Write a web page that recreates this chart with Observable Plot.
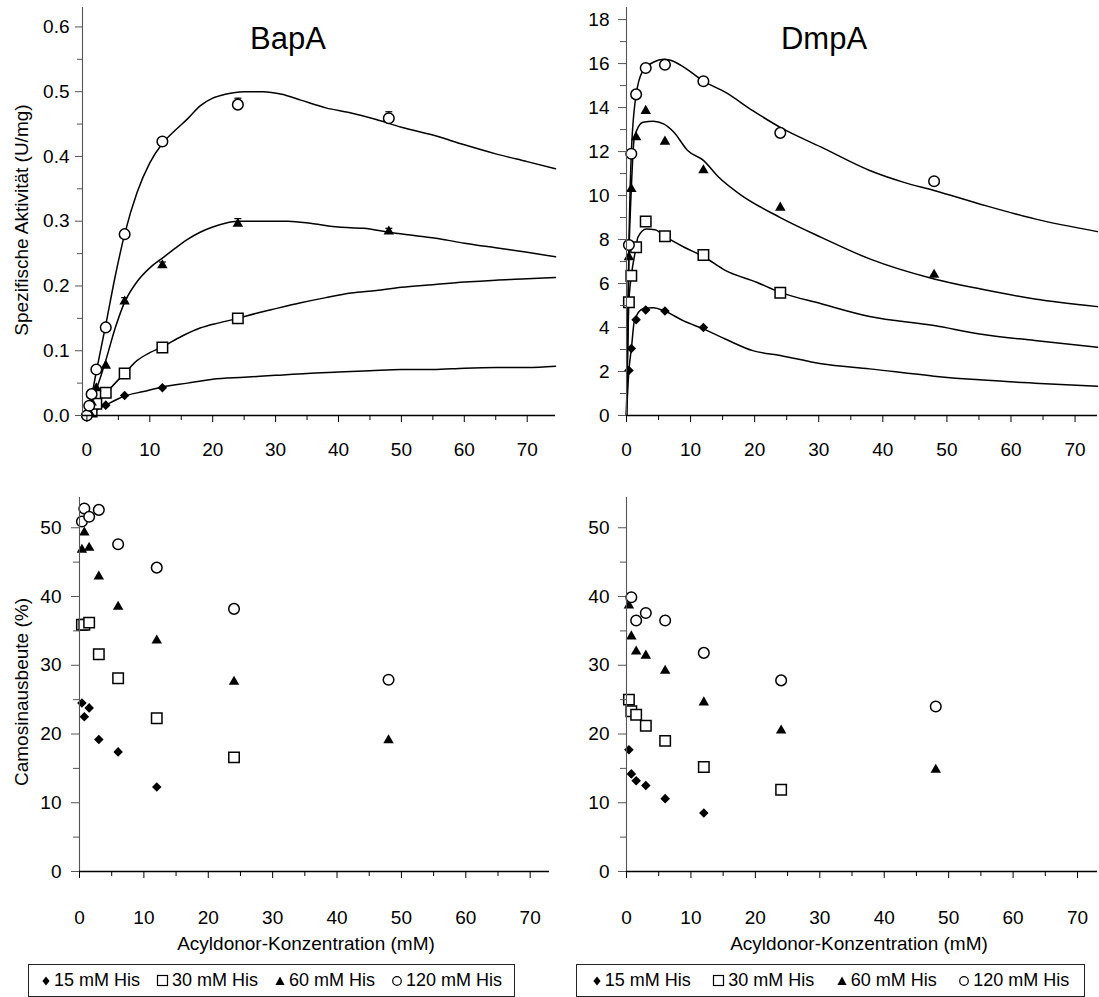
<!DOCTYPE html>
<html><head><meta charset="utf-8">
<script src="https://cdn.jsdelivr.net/npm/d3@7"></script>
<script src="https://cdn.jsdelivr.net/npm/@observablehq/plot@0.6"></script>
<style>
body{margin:0;background:#fff;font-family:"Liberation Sans",Arial,sans-serif;color:#000;}
#root{position:relative;width:1099px;height:997px;overflow:hidden;background:#fff;}
.panel{position:absolute;}
.lbl{position:absolute;white-space:nowrap;line-height:1;}
.legend{position:absolute;box-sizing:border-box;border:1px solid #222;display:flex;align-items:center;justify-content:space-around;font-size:18px;padding:0 4px;}
.legend span.it{display:flex;align-items:center;white-space:nowrap;}
.legend svg{margin-right:3px;}
</style></head><body><div id="root"></div>
<script>
// ---------- categories ----------
const hisLevels = ["15 mM His", "30 mM His", "60 mM His", "120 mM His"];

// ---------- tick labels ----------
const xMajor = [0, 10, 20, 30, 40, 50, 60, 70];
const xMinor = [5, 15, 25, 35, 45, 55, 65];
const yMajorBapAct = [0, 0.1, 0.2, 0.3, 0.4, 0.5, 0.6];
const yMinorBapAct = [0.05, 0.15, 0.25, 0.35, 0.45, 0.55];
const yMajorDmpAct = [0, 2, 4, 6, 8, 10, 12, 14, 16, 18];
const yMinorDmpAct = [1, 3, 5, 7, 9, 11, 13, 15, 17];
const yMajorYield = [0, 10, 20, 30, 40, 50];
const yMinorYield = [5, 15, 25, 35, 45];

// ---------- BapA: specific activity (U/mg), measured ----------
const bapAct15x = [3, 6, 12];
const bapAct15y = [0.016, 0.031, 0.043];
const bapAct30x = [0.75, 1.5, 3, 6, 12, 24];
const bapAct30y = [0.006, 0.018, 0.035, 0.065, 0.105, 0.15];
const bapAct60x = [0.375, 0.75, 1.5, 3, 6, 12, 24, 48];
const bapAct60y = [0.005, 0.02, 0.042, 0.077, 0.176, 0.232, 0.296, 0.284];
const bapAct120x = [0, 0.375, 0.75, 1.5, 3, 6, 12, 24, 48];
const bapAct120y = [0, 0.015, 0.033, 0.071, 0.136, 0.28, 0.423, 0.48, 0.459];
// error bars (upper end)
const bapErrX = [6, 12, 24, 48, 12, 24, 48];
const bapErrY = [0.176, 0.232, 0.296, 0.284, 0.423, 0.48, 0.459];
const bapErrHi = [0.182, 0.237, 0.304, 0.289, 0.428, 0.49, 0.469];
const bapErrHis = ["60 mM His", "60 mM His", "60 mM His", "60 mM His", "120 mM His", "120 mM His", "120 mM His"];

// ---------- BapA: fitted curves ----------
const bapFit15x = [0, 3, 6, 9, 12, 16, 20, 25, 30, 35, 40, 45, 50, 55, 60, 65, 70, 74.5];
const bapFit15y = [0, 0.016, 0.03, 0.037, 0.044, 0.05, 0.056, 0.059, 0.062, 0.065, 0.067, 0.069, 0.071, 0.071, 0.073, 0.074, 0.074, 0.076];
const bapFit30x = [0, 1.5, 3, 4.5, 6, 8, 10, 12, 15, 18, 21, 24, 27, 30, 34, 38, 42, 46, 50, 55, 60, 65, 70, 74.5];
const bapFit30y = [0, 0.018, 0.034, 0.05, 0.065, 0.085, 0.097, 0.106, 0.122, 0.135, 0.143, 0.15, 0.158, 0.165, 0.174, 0.182, 0.189, 0.193, 0.198, 0.202, 0.206, 0.209, 0.211, 0.213];
const bapFit60x = [0, 1.5, 3, 4.5, 6, 8, 10, 12, 14, 16, 18, 20, 22, 24, 28, 32, 36, 40, 44, 48, 52, 56, 60, 65, 70, 74.5];
const bapFit60y = [0, 0.04, 0.085, 0.135, 0.175, 0.207, 0.228, 0.243, 0.258, 0.272, 0.283, 0.291, 0.297, 0.3, 0.3, 0.3, 0.296, 0.291, 0.289, 0.283, 0.278, 0.273, 0.266, 0.259, 0.252, 0.245];
const bapFit120x = [0, 0.75, 1.5, 3, 4.5, 6, 8, 10, 12, 14, 16, 18, 20, 22, 25, 28, 31, 34, 38, 42, 46, 50, 55, 60, 65, 70, 74.5];
const bapFit120y = [0, 0.03, 0.068, 0.14, 0.215, 0.28, 0.345, 0.39, 0.42, 0.44, 0.458, 0.478, 0.49, 0.496, 0.5, 0.5, 0.496, 0.487, 0.475, 0.467, 0.457, 0.445, 0.433, 0.418, 0.404, 0.392, 0.381];

// ---------- DmpA: specific activity (U/mg), measured ----------
const dmpAct15x = [0.375, 0.75, 1.5, 3, 6, 12];
const dmpAct15y = [2.05, 3.05, 4.35, 4.8, 4.75, 4.0];
const dmpAct30x = [0.375, 0.75, 1.5, 3, 6, 12, 24];
const dmpAct30y = [5.15, 6.35, 7.65, 8.82, 8.15, 7.3, 5.58];
const dmpAct60x = [0.375, 0.75, 1.5, 3, 6, 12, 24, 48];
const dmpAct60y = [7.2, 10.3, 12.65, 13.85, 12.45, 11.15, 9.45, 6.4];
const dmpAct120x = [0.375, 0.75, 1.5, 3, 6, 12, 24, 48];
const dmpAct120y = [7.75, 11.9, 14.6, 15.8, 15.95, 15.2, 12.85, 10.65];

// ---------- DmpA: fitted curves ----------
const dmpFit15x = [0, 0.375, 0.75, 1.23, 2.57, 4.18, 6, 9, 12, 15.4, 19.7, 24, 30.4, 37.95, 48, 55.1, 63.7, 73.5];
const dmpFit15y = [0, 2.05, 3.0, 4.3, 4.85, 4.9, 4.74, 4.29, 3.94, 3.48, 2.95, 2.73, 2.35, 2.12, 1.79, 1.62, 1.47, 1.33];
const dmpFit30x = [0, 0.375, 0.75, 1.5, 1.77, 3.1, 4.45, 6, 9, 12, 15.4, 20.3, 24, 30.4, 37.95, 48, 55.1, 63.7, 73.5];
const dmpFit30y = [0, 5.15, 6.33, 7.65, 8.1, 8.48, 8.45, 8.14, 7.65, 7.23, 6.6, 6.06, 5.6, 5.08, 4.5, 4.09, 3.71, 3.41, 3.1];
const dmpFit60x = [0, 0.375, 0.75, 1.23, 2.57, 4.18, 5.79, 7.4, 9.54, 12, 14.4, 17.6, 24, 30.4, 37.95, 48, 55.1, 63.7, 73.5];
const dmpFit60y = [0, 7.2, 10.3, 12.65, 13.33, 13.38, 13.26, 12.88, 12.05, 11.6, 10.83, 10.08, 9.0, 8.1, 7.12, 6.21, 5.76, 5.3, 4.95];
const dmpFit120x = [0, 0.375, 0.75, 1.5, 2.57, 4.18, 5.79, 6.86, 9, 12, 15.4, 19.7, 24, 30.4, 37.95, 43.3, 48, 55.1, 63.7, 73.5];
const dmpFit120y = [0, 7.7, 11.9, 14.58, 15.68, 16.06, 16.2, 16.15, 15.83, 15.2, 14.7, 13.86, 13.1, 12.2, 11.14, 10.6, 10.23, 9.62, 8.94, 8.36];

// ---------- BapA: Carnosin yield (%) ----------
const bapYld15x = [0.375, 0.75, 1.5, 3, 6, 12];
const bapYld15y = [24.5, 22.5, 23.8, 19.2, 17.4, 12.3];
const bapYld30x = [0.375, 0.75, 1.5, 3, 6, 12, 24];
const bapYld30y = [35.9, 35.9, 36.2, 31.6, 28.1, 22.3, 16.6];
const bapYld60x = [0.375, 0.75, 1.5, 3, 6, 12, 24, 48];
const bapYld60y = [46.8, 49.3, 47.1, 42.9, 38.5, 33.6, 27.6, 19.1];
const bapYld120x = [0.375, 0.75, 1.5, 3, 6, 12, 24, 48];
const bapYld120y = [50.9, 52.8, 51.6, 52.6, 47.6, 44.2, 38.2, 27.9];

// ---------- DmpA: Carnosin yield (%) ----------
const dmpYld15x = [0.375, 0.75, 1.5, 3, 6, 12];
const dmpYld15y = [17.7, 14.2, 13.2, 12.5, 10.6, 8.5];
const dmpYld30x = [0.375, 0.75, 1.5, 3, 6, 12, 24];
const dmpYld30y = [25.0, 23.3, 22.8, 21.2, 19.0, 15.2, 11.9];
const dmpYld60x = [0.375, 0.75, 1.5, 3, 6, 12, 24, 48];
const dmpYld60y = [38.7, 34.2, 32.0, 31.4, 29.2, 24.6, 20.5, 14.8];
const dmpYld120x = [0.75, 1.5, 3, 6, 12, 24, 48];
const dmpYld120y = [39.9, 36.5, 37.6, 36.5, 31.8, 27.8, 24.0];

// ---------- helpers ----------
const rows = (xs, ys, his) => xs.map((x, i) => ({x, y: ys[i], his}));
const sym = {
  "15 mM His": {symbol: "diamond2", r: 4.3, fill: "#000", stroke: "none"},
  "30 mM His": {symbol: "square", r: 5.9, fill: "#fff", stroke: "#000", strokeWidth: 1.5},
  "60 mM His": {symbol: "triangle2", r: 5, fill: "#000", stroke: "none"},
  "120 mM His": {symbol: "circle", r: 5.3, fill: "#fff", stroke: "#000", strokeWidth: 1.5}
};
const capSymbol = {draw(ctx, size) { const w = Math.sqrt(size / Math.PI); ctx.moveTo(-w, 0); ctx.lineTo(w, 0); }};
const FONT = '"Liberation Sans", Arial, sans-serif';

function makePanel(cfg) {
  const marks = [];
  if (cfg.fits) {
    for (const h of hisLevels) {
      marks.push(Plot.line(cfg.fits.filter(d => d.his === h), {x: "x", y: "y", stroke: "#000", strokeWidth: 1.5, curve: "monotone-x"}));
    }
  }
  if (cfg.errs) {
    marks.push(Plot.ruleX(cfg.errs, {x: "x", y1: "y", y2: "hi", stroke: "#000", strokeWidth: 1.2}));
    marks.push(Plot.dot(cfg.errs, {x: "x", y: "hi", symbol: capSymbol, r: 3.5, stroke: "#000", strokeWidth: 1.2, fill: "none"}));
  }
  for (const h of hisLevels) {
    marks.push(Plot.dot(cfg.points.filter(d => d.his === h), {x: "x", y: "y", ...sym[h]}));
  }
  marks.push(Plot.ruleX([cfg.xDomain[0]], {stroke: "#555", strokeWidth: 1.1}));
  marks.push(Plot.ruleY([cfg.yDomain[0]], {stroke: "#000", strokeWidth: 1.3}));
  marks.push(Plot.axisX(xMajor, {tickSize: 7, tickPadding: cfg.xPad, fontSize: 19, label: null, stroke: "#000", fill: "#000"}));
  marks.push(Plot.axisX(xMinor, {tickSize: 5, tickFormat: () => "", label: null, stroke: "#000"}));
  marks.push(Plot.axisY(cfg.yMajor, {tickSize: cfg.yTick, tickPadding: cfg.yPad, fontSize: 19, label: null, stroke: "#555", fill: "#000", tickFormat: cfg.yFmt}));
  marks.push(Plot.axisY(cfg.yMinor, {tickSize: cfg.yTick - 2, tickFormat: () => "", label: null, stroke: "#555"}));
  const svg = Plot.plot({
    width: cfg.width, height: cfg.height,
    marginLeft: cfg.mL, marginRight: cfg.mR, marginTop: cfg.mT, marginBottom: cfg.mB,
    x: {type: "linear", domain: cfg.xDomain},
    y: {type: "linear", domain: cfg.yDomain},
    style: {fontFamily: FONT, fontSize: "19px", color: "#000", background: "transparent", overflow: "visible"},
    marks
  });
  svg.classList.add("panel");
  svg.style.left = cfg.left + "px";
  svg.style.top = cfg.top + "px";
  return svg;
}

const root = document.getElementById("root");

const bapActPts = [...rows(bapAct15x, bapAct15y, hisLevels[0]), ...rows(bapAct30x, bapAct30y, hisLevels[1]), ...rows(bapAct60x, bapAct60y, hisLevels[2]), ...rows(bapAct120x, bapAct120y, hisLevels[3])];
const bapActFit = [...rows(bapFit15x, bapFit15y, hisLevels[0]), ...rows(bapFit30x, bapFit30y, hisLevels[1]), ...rows(bapFit60x, bapFit60y, hisLevels[2]), ...rows(bapFit120x, bapFit120y, hisLevels[3])];
const bapErr = bapErrX.map((x, i) => ({x, y: bapErrY[i], hi: bapErrHi[i], his: bapErrHis[i]}));
const dmpActPts = [...rows(dmpAct15x, dmpAct15y, hisLevels[0]), ...rows(dmpAct30x, dmpAct30y, hisLevels[1]), ...rows(dmpAct60x, dmpAct60y, hisLevels[2]), ...rows(dmpAct120x, dmpAct120y, hisLevels[3])];
const dmpActFit = [...rows(dmpFit15x, dmpFit15y, hisLevels[0]), ...rows(dmpFit30x, dmpFit30y, hisLevels[1]), ...rows(dmpFit60x, dmpFit60y, hisLevels[2]), ...rows(dmpFit120x, dmpFit120y, hisLevels[3])];
const bapYldPts = [...rows(bapYld15x, bapYld15y, hisLevels[0]), ...rows(bapYld30x, bapYld30y, hisLevels[1]), ...rows(bapYld60x, bapYld60y, hisLevels[2]), ...rows(bapYld120x, bapYld120y, hisLevels[3])];
const dmpYldPts = [...rows(dmpYld15x, dmpYld15y, hisLevels[0]), ...rows(dmpYld30x, dmpYld30y, hisLevels[1]), ...rows(dmpYld60x, dmpYld60y, hisLevels[2]), ...rows(dmpYld120x, dmpYld120y, hisLevels[3])];

root.appendChild(makePanel({left: 0, top: 0, width: 560, height: 460, mL: 82, mR: 5, mT: 7, mB: 45,
  xDomain: [-0.7, 74.5], yDomain: [0, 0.63], yMajor: yMajorBapAct, yMinor: yMinorBapAct, yFmt: d3.format(".1f"),
  yTick: 7, yPad: 6, xPad: 20, points: bapActPts, fits: bapActFit, errs: bapErr}));
root.appendChild(makePanel({left: 560, top: 0, width: 539, height: 460, mL: 66, mR: 2, mT: 7, mB: 45,
  xDomain: [0, 73.5], yDomain: [0, 18.55], yMajor: yMajorDmpAct, yMinor: yMinorDmpAct, yFmt: d3.format("d"),
  yTick: 8, yPad: 9, xPad: 20, points: dmpActPts, fits: dmpActFit}));
root.appendChild(makePanel({left: 0, top: 460, width: 560, height: 500, mL: 79, mR: 11, mT: 37, mB: 89,
  xDomain: [0, 73], yDomain: [0, 54.4], yMajor: yMajorYield, yMinor: yMinorYield, yFmt: d3.format("d"),
  yTick: 8, yPad: 10, xPad: 32, points: bapYldPts}));
root.appendChild(makePanel({left: 560, top: 460, width: 539, height: 500, mL: 66, mR: 2, mT: 37, mB: 89,
  xDomain: [0, 73.1], yDomain: [0, 54.4], yMajor: yMajorYield, yMinor: yMinorYield, yFmt: d3.format("d"),
  yTick: 8, yPad: 9, xPad: 32, points: dmpYldPts}));

// ---------- text labels ----------
function label(text, cx, cy, size, rotate) {
  const d = document.createElement("div");
  d.className = "lbl";
  d.textContent = text;
  d.style.left = cx + "px";
  d.style.top = cy + "px";
  d.style.fontSize = size + "px";
  d.style.transform = "translate(-50%,-50%)" + (rotate ? " rotate(-90deg)" : "");
  root.appendChild(d);
}
label("BapA", 288, 38, 31);
label("DmpA", 824, 38, 31);
label("Spezifische Aktivität (U/mg)", 21, 220, 19, true);
label("Camosinausbeute (%)", 21, 692, 19, true);
label("Acyldonor-Konzentration (mM)", 306, 943, 19);
label("Acyldonor-Konzentration (mM)", 859, 943, 19);

// ---------- legends ----------
const glyph = {
  "15 mM His": '<svg width="10" height="12" viewBox="-5 -6 10 12"><path d="M0,-4.5L3.6,0L0,4.5L-3.6,0Z" fill="#000"/></svg>',
  "30 mM His": '<svg width="13" height="13" viewBox="-6.5 -6.5 13 13"><rect x="-5" y="-5" width="10" height="10" fill="#fff" stroke="#000" stroke-width="1.2"/></svg>',
  "60 mM His": '<svg width="12" height="12" viewBox="-6 -6 12 12"><path d="M0,-4.5L4.6,4L-4.6,4Z" fill="#000"/></svg>',
  "120 mM His": '<svg width="12" height="12" viewBox="-6 -6 12 12"><circle r="4.3" fill="#fff" stroke="#000" stroke-width="1.2"/></svg>'
};
function legend(left, width) {
  const d = document.createElement("div");
  d.className = "legend";
  d.style.left = left + "px";
  d.style.top = "964px";
  d.style.width = width + "px";
  d.style.height = "33px";
  d.innerHTML = hisLevels.map(h => `<span class="it">${glyph[h]}<span>${h}</span></span>`).join("");
  root.appendChild(d);
}
legend(28, 487);
legend(576, 509);
</script>
</body></html>
